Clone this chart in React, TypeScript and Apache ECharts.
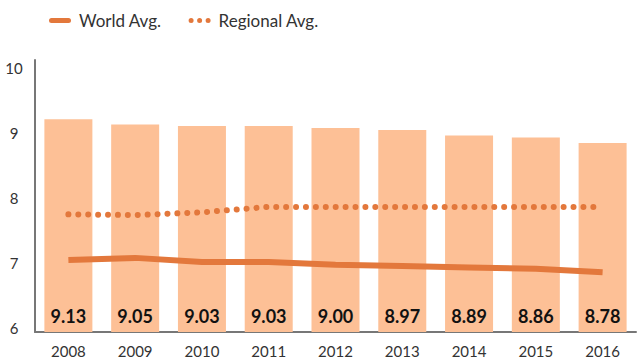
import React, { useEffect, useRef } from "react";
import * as echarts from "echarts";

const years = ["2008", "2009", "2010", "2011", "2012", "2013", "2014", "2015", "2016"];
const barValues = [9.13, 9.05, 9.03, 9.03, 9.0, 8.97, 8.89, 8.86, 8.78];
const worldAvg = [7.06, 7.09, 7.03, 7.03, 6.99, 6.97, 6.95, 6.93, 6.88];
const regionalAvg = [7.73, 7.72, 7.76, 7.84, 7.84, 7.84, 7.84, 7.84, 7.84];
const yTicks = [6, 7, 8, 9, 10];

const BAR = "#FDC096";
const LINE = "#E3783C";
const FONT = "Lato";

// small vertical nudges so the tick labels sit where the reference places them
const labelPad: Record<string, number[]> = {
  "6": [0, 0, 9, 0],
  "7": [0, 0, 3, 0],
  "8": [3, 0, 0, 0],
  "9": [9, 0, 0, 0],
  "10": [15, 0, 0, 0],
};

export default function App() {
  const ref = useRef<HTMLDivElement>(null);
  useEffect(() => {
    if (!ref.current) return;
    const chart = echarts.init(ref.current, undefined, { renderer: "svg" });
    const rich: Record<string, any> = {};
    yTicks.forEach((t) => {
      rich["t" + t] = {
        fontFamily: FONT,
        fontSize: 15,
        color: "#333",
        padding: labelPad[String(t)],
      };
    });
    chart.setOption({
      animation: false,
      textStyle: { fontFamily: FONT },
      legend: {
        top: 7,
        left: 44,
        itemWidth: 22,
        itemHeight: 5,
        itemGap: 27,
        data: [
          {
            name: "World Avg.",
            icon: "path://M2.5,0 H19.5 A2.5,2.5 0 0 1 19.5,5 H2.5 A2.5,2.5 0 0 1 2.5,0 Z",
          },
          {
            name: "Regional Avg.",
            icon:
              "path://M0,2.5 A2.5,2.5 0 1 0 5,2.5 A2.5,2.5 0 1 0 0,2.5 Z M8.5,2.5 A2.5,2.5 0 1 0 13.5,2.5 A2.5,2.5 0 1 0 8.5,2.5 Z M17,2.5 A2.5,2.5 0 1 0 22,2.5 A2.5,2.5 0 1 0 17,2.5 Z",
          },
        ],
        itemStyle: { color: LINE },
        textStyle: { fontFamily: FONT, fontSize: 17, color: "#333", padding: [0, 0, 0, 3] },
      },
      grid: { left: 35, right: 1, top: 60, bottom: 28, containLabel: false },
      xAxis: {
        type: "category",
        data: years,
        axisLine: { lineStyle: { color: "#777", width: 2 } },
        axisTick: { show: false },
        axisLabel: { fontFamily: FONT, fontSize: 15, color: "#333", margin: 11 },
      },
      yAxis: {
        type: "value",
        min: 6,
        max: 10,
        interval: 1,
        axisLine: { show: true, lineStyle: { color: "#777", width: 2 } },
        axisTick: { show: false },
        splitLine: { show: false },
        axisLabel: {
          align: "center",
          margin: 21,
          formatter: (v: number) => `{t${v}|${v}}`,
          rich,
        },
      },
      series: [
        {
          name: "Value",
          type: "bar",
          data: barValues,
          barWidth: 48,
          itemStyle: { color: BAR },
          label: {
            show: true,
            position: "insideBottom",
            distance: 7,
            formatter: (p: any) => Number(p.value).toFixed(2),
            fontFamily: FONT,
            fontWeight: "bold",
            fontSize: 18,
            color: "#111",
          },
          z: 1,
        },
        {
          name: "World Avg.",
          type: "line",
          data: worldAvg,
          symbol: "none",
          lineStyle: { color: LINE, width: 6, cap: "butt" },
          itemStyle: { color: LINE },
          z: 3,
        },
        {
          name: "Regional Avg.",
          type: "line",
          data: regionalAvg,
          symbol: "none",
          lineStyle: { color: LINE, width: 6, type: [0.01, 9.9], cap: "round" },
          itemStyle: { color: LINE },
          z: 3,
        },
      ],
    });
    return () => chart.dispose();
  }, []);
  return <div ref={ref} style={{ width: 637, height: 360, position: "absolute", left: 0, top: 0 }} />;
}
